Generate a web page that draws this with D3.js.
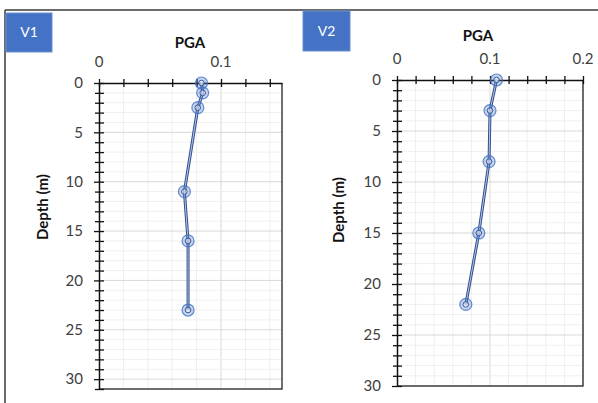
<!DOCTYPE html>
<html>
<head>
<meta charset="utf-8">
<script src="https://cdn.jsdelivr.net/npm/d3@7"></script>
<style>
  body { margin: 0; background: #fff; }
  svg { display: block; font-family: Lato, "Open Sans", sans-serif; }
  .grid-minor { stroke: #efefef; stroke-width: 1; }
  .grid-major { stroke: #d9d9d9; stroke-width: 1; }
  .tick-label { fill: #404040; font-size: 15px; }
</style>
</head>
<body>
<div id="chart"></div>
<script>
// panel V1
const v1Depth = [0, 1, 2.5, 11, 16, 23];
const v1Pga = [0.084, 0.085, 0.081, 0.070, 0.073, 0.073];
const v1XTicks = [0, 0.1];
// panel V2
const v2Depth = [0, 3, 8, 15, 22];
const v2Pga = [0.107, 0.100, 0.099, 0.088, 0.074];
const v2XTicks = [0, 0.1, 0.2];
// shared
const depthTicks = [0, 5, 10, 15, 20, 25, 30];
const xTitle = 'PGA';
const yTitle = 'Depth (m)';

const width = 598;
const height = 403;
const svg = d3.select('#chart').append('svg').attr('width', width).attr('height', height);

// outer frame (top + left)
svg.append('line').attr('x1', 5).attr('y1', 10).attr('x2', width).attr('y2', 10).style('stroke', '#3a3a3a').style('stroke-width', 1.5);
svg.append('line').attr('x1', 5).attr('y1', 10).attr('x2', 5).attr('y2', height).style('stroke', '#3a3a3a').style('stroke-width', 1.5);

function drawPanel(o) {
  const g = svg.append('g');
  const x = d3.scaleLinear().domain([0, o.xMax]).range([o.left, o.right]);
  const y = d3.scaleLinear().domain([0, o.yMax]).range([o.top, o.bottom]);
  const xMinor = d3.range(0, o.xMax + 1e-9, 0.02);
  const yMinor = d3.range(0, o.yMax + 1e-9, 1);

  // gridlines
  g.selectAll('.gx').data(xMinor.slice(1)).enter().append('line')
    .attr('class', d => Math.abs(d * 10 - Math.round(d * 10)) < 1e-6 ? 'grid-major' : 'grid-minor')
    .attr('x1', d => x(d)).attr('x2', d => x(d)).attr('y1', o.top).attr('y2', o.bottom);
  g.selectAll('.gy').data(yMinor.slice(1)).enter().append('line')
    .attr('class', d => d % 5 === 0 ? 'grid-major' : 'grid-minor')
    .attr('y1', d => y(d)).attr('y2', d => y(d)).attr('x1', o.left).attr('x2', o.right);

  // plot border (right + bottom)
  g.append('path').attr('d', `M${o.right},${o.top}V${o.bottom}H${o.left}`)
    .style('fill', 'none').style('stroke', '#404040').style('stroke-width', 1.5);

  // top x axis with crossing ticks
  const xAxis = g.append('g').attr('transform', 'translate(0,' + o.top + ')')
    .call(d3.axisTop(x).tickValues(xMinor).tickFormat('').tickSizeOuter(0));
  xAxis.select('.domain').style('stroke', '#111').style('stroke-width', 1.5);
  xAxis.selectAll('.tick line').attr('y1', -4).attr('y2', 4).style('stroke', '#111').style('stroke-width', 1.3);

  // left y axis with crossing ticks
  const yAxis = g.append('g').attr('transform', 'translate(' + o.left + ',0)')
    .call(d3.axisLeft(y).tickValues(yMinor).tickFormat('').tickSizeOuter(0));
  yAxis.select('.domain').style('stroke', '#111').style('stroke-width', 1.5);
  yAxis.selectAll('.tick line').attr('x1', d => d % 5 === 0 ? -5 : -4).attr('x2', 5).style('stroke', '#111').style('stroke-width', 1.3);

  // tick labels
  g.selectAll('.xl').data(o.xTicks).enter().append('text').attr('class', 'tick-label')
    .attr('x', d => x(d)).attr('y', o.top - 16).attr('text-anchor', 'middle').text(d => d);
  g.selectAll('.yl').data(depthTicks).enter().append('text').attr('class', 'tick-label')
    .attr('x', o.left - 16).attr('y', d => y(d)).attr('dy', '0.35em').attr('text-anchor', 'end').text(d => d);

  // titles
  g.append('text').attr('x', o.titleX).attr('y', o.titleY).attr('text-anchor', 'middle')
    .style('font-weight', 'bold').style('font-size', '15px').style('fill', '#111').text(xTitle);
  g.append('text').attr('transform', 'translate(' + o.yTitleX + ',' + o.yTitleY + ') rotate(-90)')
    .attr('text-anchor', 'middle').attr('dy', '0.35em')
    .style('font-weight', 'bold').style('font-size', '15px').style('fill', '#111').text(yTitle);

  // series
  const pts = o.depth.map((d, i) => ({ x: x(o.pga[i]), y: y(d) }));
  const line = d3.line().x(d => d.x).y(d => d.y);
  g.append('path').attr('d', line(pts)).style('fill', 'none').style('stroke', '#2f4f8f').style('stroke-width', 3);
  g.append('path').attr('d', line(pts)).style('fill', 'none').style('stroke', '#b8c6e6').style('stroke-width', 1);
  g.selectAll('.m1').data(pts).enter().append('circle').attr('cx', d => d.x).attr('cy', d => d.y).attr('r', 6)
    .style('fill', 'rgba(68,114,196,0.3)').style('stroke', 'rgba(68,114,196,0.8)').style('stroke-width', 1.2);
  g.selectAll('.m2').data(pts).enter().append('circle').attr('cx', d => d.x).attr('cy', d => d.y).attr('r', 2.8)
    .style('fill', 'rgba(255,255,255,0.5)').style('stroke', '#3a5a9c').style('stroke-width', 1);

  // label box
  g.append('rect').attr('x', o.box[0]).attr('y', o.box[1]).attr('width', o.box[2]).attr('height', o.box[3])
    .style('fill', '#4472c4').style('stroke', '#6d8fd0').style('stroke-width', 1);
  g.append('text').attr('x', o.box[0] + o.box[2] / 2).attr('y', o.box[1] + o.box[3] / 2).attr('dy', '0.35em')
    .attr('text-anchor', 'middle').style('fill', '#fff').style('font-size', '14px').text(o.name);
}

drawPanel({
  name: 'V1', depth: v1Depth, pga: v1Pga, xTicks: v1XTicks, xMax: 0.15, yMax: 31,
  left: 99, right: 282, top: 83, bottom: 389,
  titleX: 190, titleY: 48, yTitleX: 43, yTitleY: 207, box: [6, 13, 46, 39]
});
drawPanel({
  name: 'V2', depth: v2Depth, pga: v2Pga, xTicks: v2XTicks, xMax: 0.2, yMax: 30,
  left: 397, right: 583, top: 80, bottom: 386,
  titleX: 478, titleY: 41, yTitleX: 339, yTitleY: 210, box: [303, 11, 47, 40]
});
</script>
</body>
</html>
